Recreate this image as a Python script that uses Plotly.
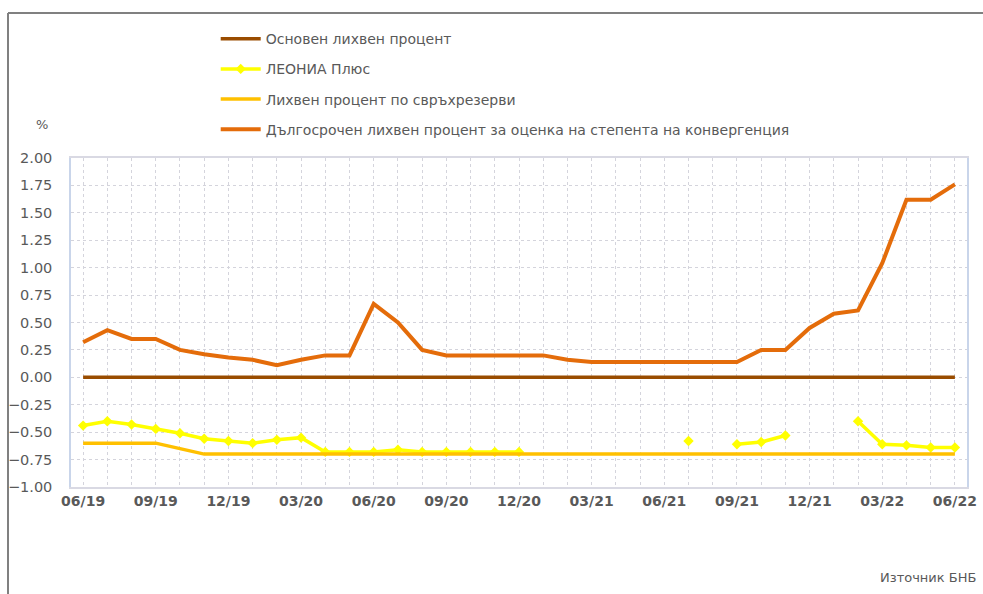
import plotly.graph_objects as go

months = ["06/19","07/19","08/19","09/19","10/19","11/19","12/19","01/20","02/20","03/20",
          "04/20","05/20","06/20","07/20","08/20","09/20","10/20","11/20","12/20","01/21",
          "02/21","03/21","04/21","05/21","06/21","07/21","08/21","09/21","10/21","11/21",
          "12/21","01/22","02/22","03/22","04/22","05/22","06/22"]
tick_labels = ["06/19","09/19","12/19","03/20","06/20","09/20","12/20","03/21","06/21","09/21","12/21","03/22","06/22"]

base_rate = [0.00]*37
leonia = [-0.44,-0.40,-0.43,-0.47,-0.51,-0.56,-0.58,-0.60,-0.57,-0.55,
          -0.68,-0.68,-0.68,-0.66,-0.68,-0.68,-0.68,-0.68,-0.68,None,
          None,None,None,None,None,-0.58,None,-0.61,-0.59,-0.53,
          None,None,-0.40,-0.61,-0.62,-0.64,-0.64]
excess = [-0.60,-0.60,-0.60,-0.60,-0.65,-0.70,-0.70,-0.70,-0.70,-0.70,
          -0.70,-0.70,-0.70,-0.70,-0.70,-0.70,-0.70,-0.70,-0.70,-0.70,
          -0.70,-0.70,-0.70,-0.70,-0.70,-0.70,-0.70,-0.70,-0.70,-0.70,
          -0.70,-0.70,-0.70,-0.70,-0.70,-0.70,-0.70]
longterm = [0.32,0.43,0.35,0.35,0.25,0.21,0.18,0.16,0.11,0.16,
            0.20,0.20,0.67,0.50,0.25,0.20,0.20,0.20,0.20,0.20,
            0.16,0.14,0.14,0.14,0.14,0.14,0.14,0.14,0.25,0.25,
            0.45,0.58,0.61,1.04,1.62,1.62,1.76]

names = ["Основен лихвен процент", "ЛЕОНИА Плюс", "Лихвен процент по свръхрезерви",
         "Дългосрочен лихвен процент за оценка на степента на конвергенция"]

FONT = "DejaVu Sans"
GRAY = "#595959"

fig = go.Figure()
fig.add_trace(go.Scatter(x=months, y=base_rate, name=names[0], mode="lines",
                         line=dict(color="#994C00", width=3.5), legendgroup="a"))
fig.add_trace(go.Scatter(x=months, y=leonia, name=names[1], mode="lines+markers",
                         line=dict(color="#FFFF00", width=3.5),
                         marker=dict(symbol="diamond", size=8, color="#FFFF00"),
                         connectgaps=False, legendgroup="b"))
fig.add_trace(go.Scatter(x=months, y=excess, name=names[2], mode="lines",
                         line=dict(color="#FFC000", width=3.5), legendgroup="c"))
fig.add_trace(go.Scatter(x=months, y=longterm, name=names[3], mode="lines",
                         line=dict(color="#E46C0A", width=4), legendgroup="d"))

fig.update_layout(
    width=983, height=594,
    margin=dict(l=71, r=16, t=158, b=107, autoexpand=False),
    paper_bgcolor="white", plot_bgcolor="white",
    font=dict(family=FONT, size=14, color=GRAY),
    showlegend=True,
    legend=dict(x=0.1615, y=1.41, xanchor="left", yanchor="top",
                font=dict(family=FONT, size=14, color=GRAY),
                tracegroupgap=9, traceorder="grouped",
                bgcolor="rgba(0,0,0,0)", itemwidth=40),
    xaxis=dict(type="category", range=[-0.5, 36.5], automargin=False,
               tickmode="array", tickvals=months,
               ticktext=[m if m in tick_labels else "" for m in months],
               tickangle=0,
               showgrid=True, gridcolor="#D4D4DC", griddash="dot", gridwidth=1,
               showline=True, linecolor="#D9D9E3", linewidth=1.5, mirror=True,
               ticks="", tickfont=dict(family=FONT, size=14, color=GRAY, weight="bold")),
    yaxis=dict(range=[-1.0, 2.0], tickmode="array", automargin=False,
               tickvals=[-1.0,-0.75,-0.5,-0.25,0,0.25,0.5,0.75,1.0,1.25,1.5,1.75,2.0],
               tickformat=".2f",
               showgrid=True, gridcolor="#D4D4DC", griddash="dot", gridwidth=1,
               zeroline=False,
               showline=True, linecolor="#C9D5EA", linewidth=1.5, mirror=True,
               ticks="", ticklabelstandoff=14,
               tickfont=dict(family=FONT, size=14.5, color=GRAY)),
    annotations=[
        dict(text="%", x=-0.041, y=1.130, xref="paper", yref="paper",
             showarrow=False, font=dict(family=FONT, size=13, color=GRAY)),
        dict(text="Източник БНБ", x=1.012, y=-0.304, xref="paper", yref="paper",
             xanchor="right", showarrow=False, font=dict(family=FONT, size=13, color=GRAY)),
    ],
    shapes=[
        dict(type="line", xref="paper", yref="paper", x0=(8-71)/896, x1=(983-71)/896,
             y0=(487-13)/329, y1=(487-13)/329, line=dict(color="#808080", width=2)),
        dict(type="line", xref="paper", yref="paper", x0=(8-71)/896, x1=(8-71)/896,
             y0=(487-13)/329, y1=(487-600)/329, line=dict(color="#808080", width=2)),
    ],
)

fig.write_html("out.html", config={"displayModeBar": False},
               post_script="document.body.style.margin='0px';")
